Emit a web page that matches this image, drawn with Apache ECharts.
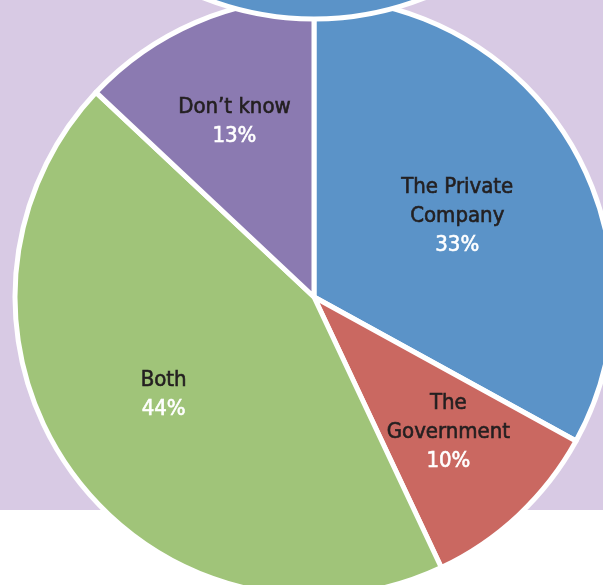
<!DOCTYPE html>
<html>
<head>
<meta charset="utf-8">
<script src="https://cdn.jsdelivr.net/npm/echarts@6/dist/echarts.min.js"></script>
<style>
html,body{margin:0;padding:0;background:#fff;}
#chart{width:603px;height:585px;}
</style>
</head>
<body>
<div id="chart"></div>
<script>
// Data
var categories = ['The Private\nCompany', 'The\nGovernment', 'Both', 'Don\u2019t know'];
var values = [33, 10, 44, 13];
var colors = ['#5B93C8', '#CA6861', '#A0C479', '#8B7AB1'];
// label nudges (pixels) relative to the default inside position
var labelDx = [12, 30, -27, -19];
var labelDy = [-3, 24, 8, -35];

var chart = echarts.init(document.getElementById('chart'), null, {renderer: 'canvas'});
var FONT = "'Liberation Sans Narrow', 'DejaVu Sans Condensed', 'Roboto', sans-serif";

var option = {
  animation: false,
  backgroundColor: '#ffffff',
  graphic: [
    {
      type: 'rect', z: -10, silent: true,
      shape: {x: 0, y: 0, width: 603, height: 510},
      style: {fill: '#D8CAE4'}
    },
    {
      type: 'circle', z: 100, silent: true,
      shape: {cx: 314, cy: -281, r: 300},
      style: {fill: '#5B93C8', stroke: '#ffffff', lineWidth: 5}
    }
  ],
  series: [{
    type: 'pie',
    center: [314, 297],
    radius: 299,
    startAngle: 90,
    clockwise: true,
    avoidLabelOverlap: false,
    itemStyle: {borderColor: '#ffffff', borderWidth: 5},
    label: {
      show: true,
      position: 'inside',
      formatter: function (p) { return '{n|' + p.name.split('\n').join('}\n{n|') + '}\n{p|' + p.value + '%}'; },
      rich: {
        n: {color: '#231F20', fontSize: 22, lineHeight: 29, fontFamily: FONT, align: 'center',
            textBorderColor: '#231F20', textBorderWidth: 0.6},
        p: {color: '#ffffff', fontSize: 22, lineHeight: 29, fontFamily: FONT, align: 'center',
            textBorderColor: '#ffffff', textBorderWidth: 0.6}
      }
    },
    labelLine: {show: false},
    labelLayout: function (params) {
      return {dx: labelDx[params.dataIndex], dy: labelDy[params.dataIndex]};
    },
    emphasis: {disabled: true},
    data: categories.map(function (c, i) {
      return {name: c, value: values[i], itemStyle: {color: colors[i]}};
    })
  }]
};
chart.setOption(option);
</script>
</body>
</html>
